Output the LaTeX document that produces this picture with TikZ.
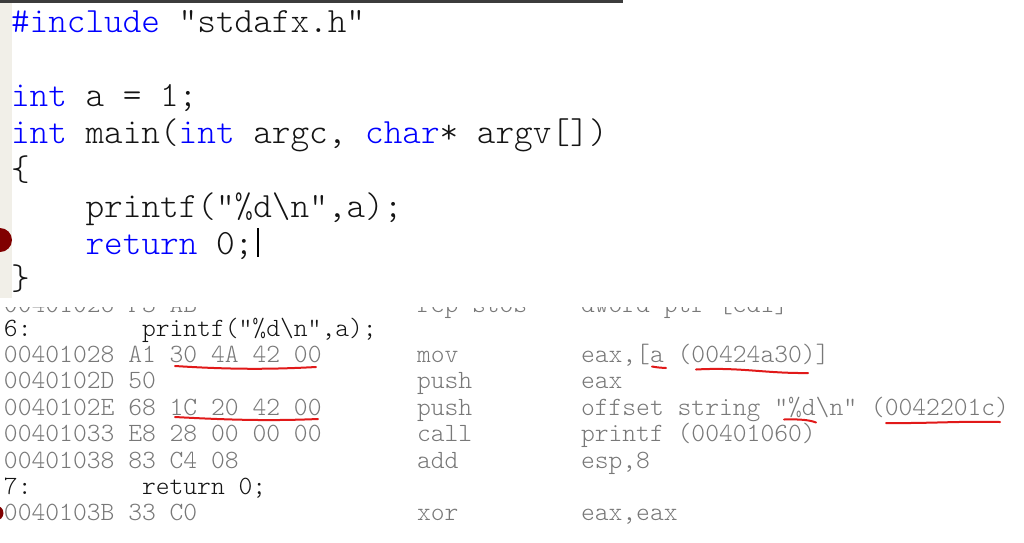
\documentclass[tikz,border=0pt]{standalone}
\usepackage{fontspec}
\newfontfamily\lmlight{lmmonolt10-regular}[Extension=.otf]
\definecolor{kw}{RGB}{0,0,255}
\definecolor{asmgray}{RGB}{120,120,120}
\definecolor{srcblack}{RGB}{20,20,20}
\definecolor{gutter}{RGB}{241,239,232}
\definecolor{topbar}{RGB}{60,60,60}
\definecolor{bpred}{RGB}{128,0,0}
\definecolor{markred}{RGB}{225,25,25}
\begin{document}
\begin{tikzpicture}[x=1pt,y=-1pt,
  code/.style={anchor=base west, inner sep=0pt, outer sep=0pt, text=srcblack,
    font=\fontsize{35.5}{35.5}\selectfont\lmlight},
  asm/.style={anchor=base west, inner sep=0pt, outer sep=0pt, text=asmgray,
    font=\fontsize{26.3}{26.3}\selectfont\lmlight},
  src/.style={asm, text=srcblack},
  redline/.style={draw=markred, line width=2pt, line cap=round}]
\useasboundingbox (0,0) rectangle (1024,542);
\fill[white] (0,0) rectangle (1024,542);
% editor panel
\fill[gutter] (0,2) rectangle (12,298);
\draw[topbar, line width=2.5pt] (0,1.25) -- (623,1.25);
\begin{scope}
  \clip (0,0) rectangle (1024,542);
  \fill[bpred] (0,240) circle (12);
  \fill[bpred] (-4,513) circle (7.5);
\end{scope}
\node[code] (l1) at (11,32) {\textcolor{kw}{\#include} "stdafx.h"};
\node[code] (l3) at (11,106) {\textcolor{kw}{int} a = 1;};
\node[code] (l4) at (11,143) {\textcolor{kw}{int} main(\textcolor{kw}{int} argc, \textcolor{kw}{char}* argv[])};
\node[code] (l5) at (11,180) {\{};
\node[code] (l6) at (85.6,217) {printf("\%d\textbackslash n",a);};
\node[code] (l7) at (85.6,254) {\textcolor{kw}{return} 0;};
\node[code] (l8) at (11,289) {\raisebox{0pt}[\height][0pt]{\}}};
\draw[line width=2pt, black] (258,228) -- (258,257);
% disassembly panel: previous line, mostly hidden
\begin{scope}
  \clip (0,307) rectangle (1024,542);
  \node[asm] (p0) at (4,312.5) {\raisebox{0pt}[0pt][0pt]{00401026 F3 AB}};
  \node[asm] (p1) at (417,312.5) {\raisebox{0pt}[0pt][0pt]{rep}};
  \node[asm] (p2) at (472,312.5) {\raisebox{0pt}[0pt][0pt]{stos}};
  \node[asm] (p3) at (581,312.5) {\raisebox{0pt}[0pt][0pt]{dword ptr [edi]}};
\end{scope}
\node[src] (s6) at (4,336) {6:};
\node[src] (s6b) at (142,336) {printf("\%d\textbackslash n",a);};
\node[asm] (a1) at (4,362.4) {00401028 A1 30 4A 42 00};
\node[asm] (m1) at (417,362.4) {mov};
\node[asm] (o1) at (581,362.4) {eax,[a (00424a30)]};
\node[asm] (a2) at (4,388.8) {0040102D 50};
\node[asm] (m2) at (417,388.8) {push};
\node[asm] (o2) at (581,388.8) {eax};
\node[asm] (a3) at (4,415.2) {0040102E 68 1C 20 42 00};
\node[asm] (m3) at (417,415.2) {push};
\node[asm] (o3) at (581,415.2) {offset string "\%d\textbackslash n" (0042201c)};
\node[asm] (a4) at (4,441.6) {00401033 E8 28 00 00 00};
\node[asm] (m4) at (417,441.6) {call};
\node[asm] (o4) at (581,441.6) {printf (00401060)};
\node[asm] (a5) at (4,468) {00401038 83 C4 08};
\node[asm] (m5) at (417,468) {add};
\node[asm] (o5) at (581,468) {esp,8};
\node[src] (s7) at (4,494.4) {7:};
\node[src] (s7b) at (142,494.4) {return 0;};
\node[asm] (a7) at (4,520.8) {0040103B 33 C0};
\node[asm] (m7) at (417,520.8) {xor};
\node[asm] (o7) at (581,520.8) {eax,eax};
% red hand-drawn underlines
\draw[redline] (175,366) .. controls (230,369.5) and (270,369.5) .. (316,367);
\draw[redline] (175,417) .. controls (230,420) and (270,421) .. (318,419);
\draw[redline] (652,366.5) .. controls (658,367.5) .. (666,368);
\draw[redline] (696,369.5) .. controls (740,367) and (765,373.5) .. (808,373);
\draw[redline] (784,419.5) .. controls (800,419) and (810,420) .. (816,422.5);
\draw[redline] (886,423) .. controls (930,423.5) and (960,421) .. (1000,422);
\end{tikzpicture}
\end{document}
